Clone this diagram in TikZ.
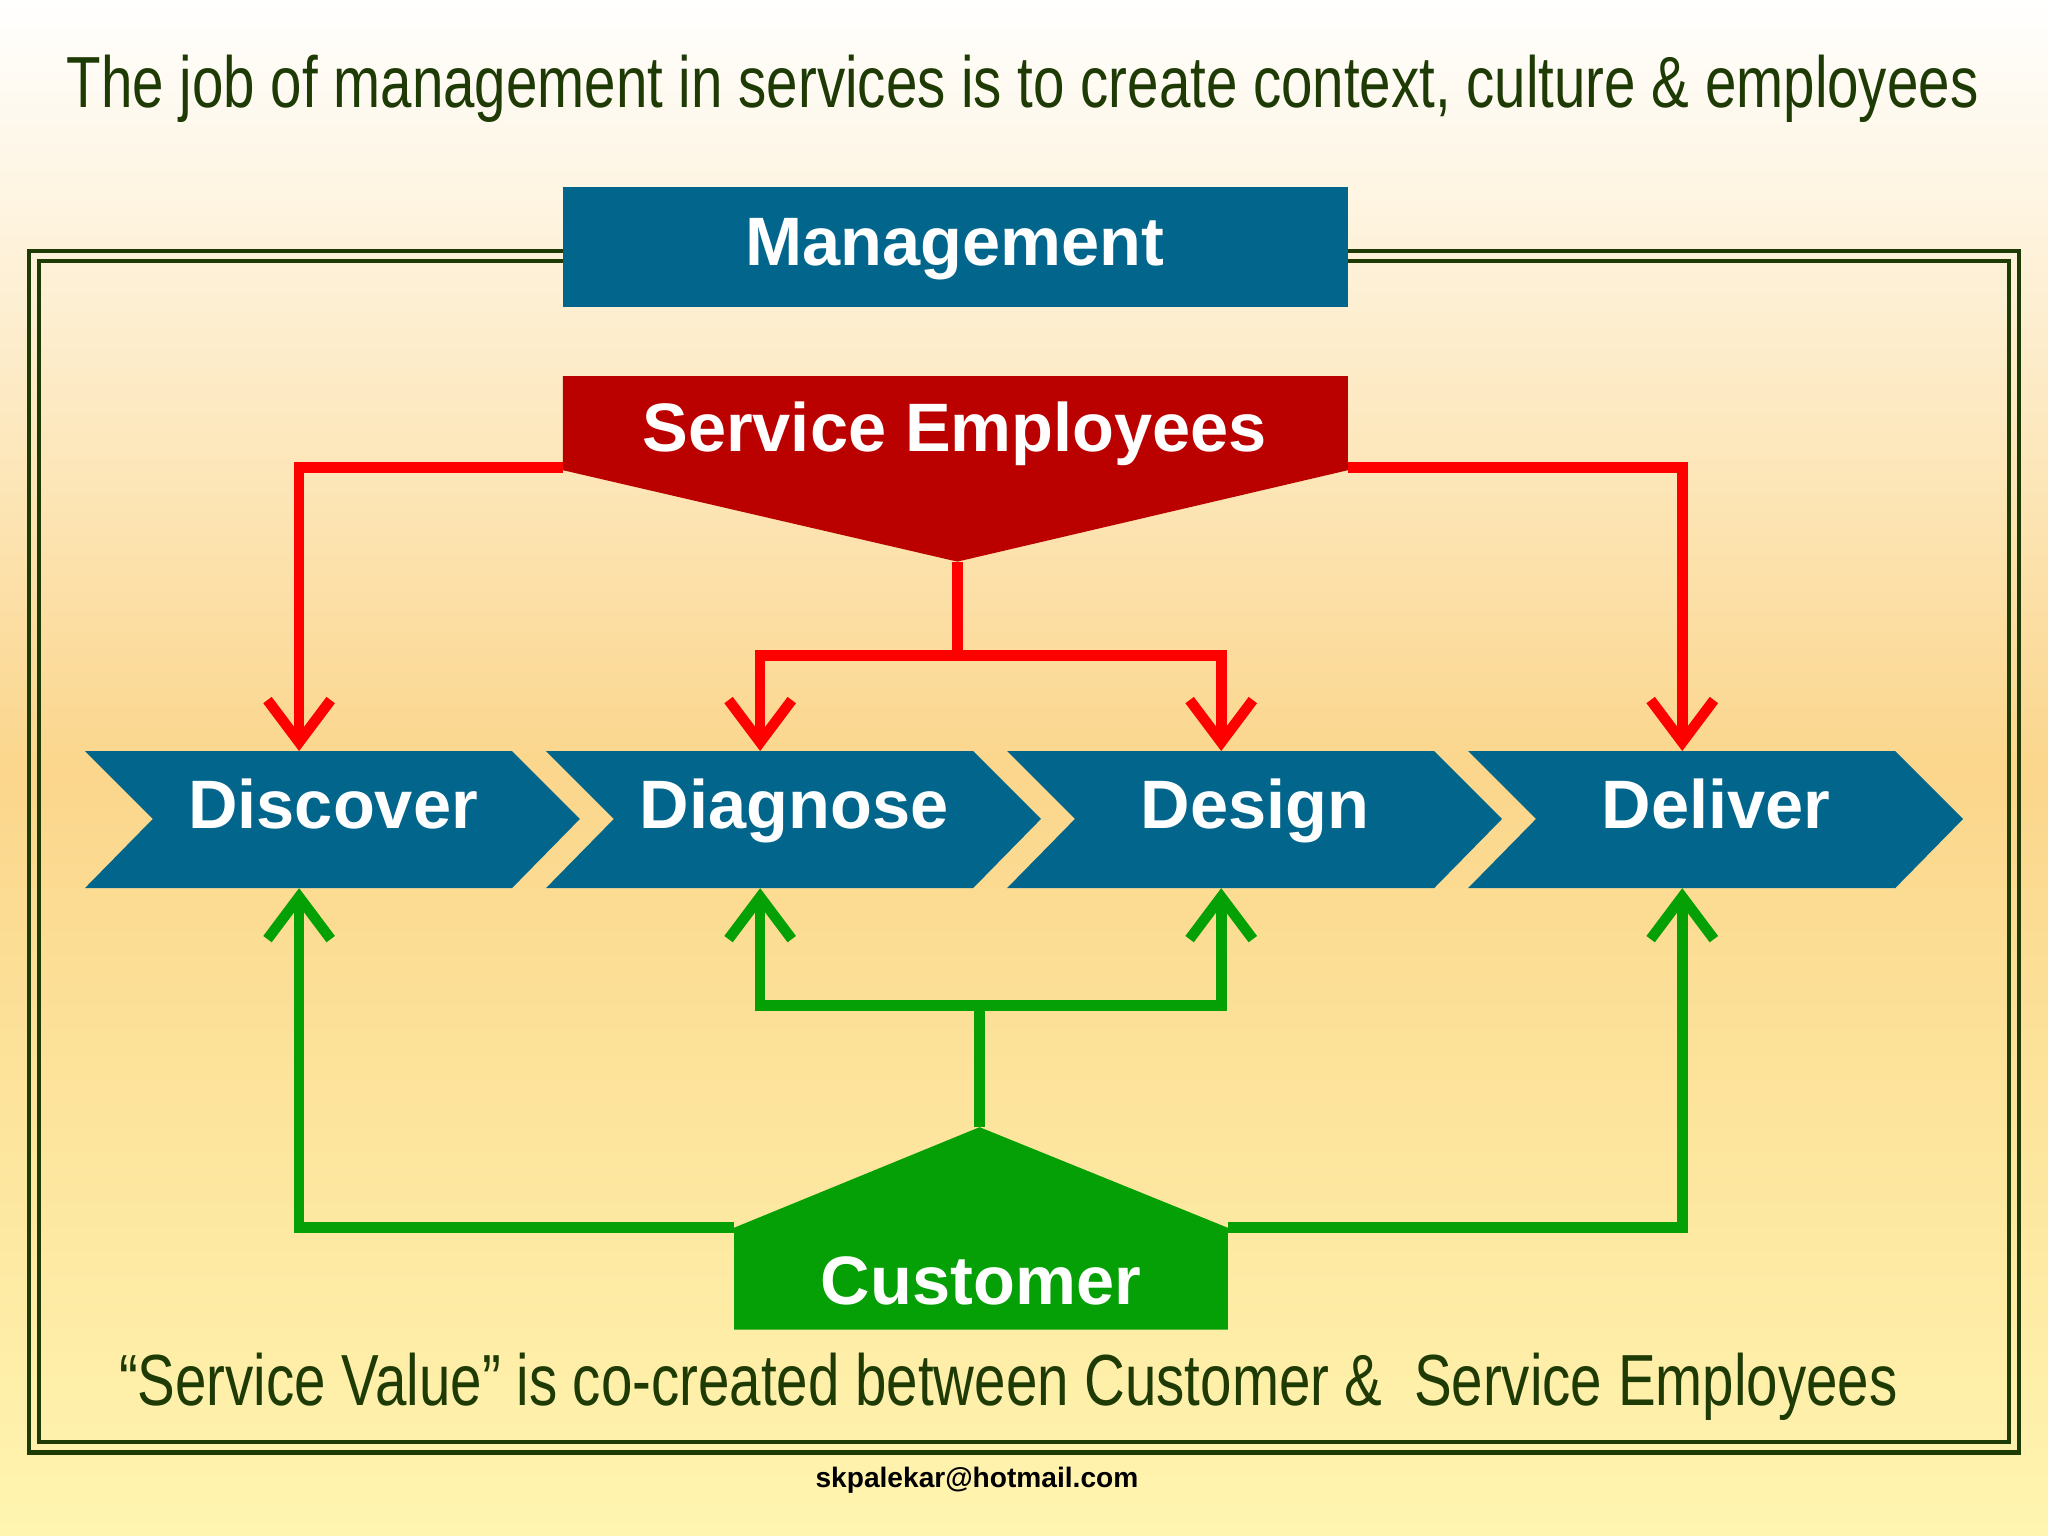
\documentclass[tikz,border=0pt]{standalone}
\usepackage{fontspec}
\setmainfont{Liberation Sans}
\newfontfamily\narrowsans{Liberation Sans}[FakeStretch=0.78]
\usetikzlibrary{arrows.meta}
\definecolor{mgmtblue}{HTML}{02668C}
\definecolor{emplred}{HTML}{BB0000}
\definecolor{custgreen}{HTML}{05A005}
\definecolor{darkgreen}{HTML}{1E3A05}
\definecolor{bgorange}{HTML}{FBD68C}
\definecolor{bgyellow}{HTML}{FFF5B0}
\tikzset{
  box/.style={fill=mgmtblue,draw=none},
  boxtext/.style={text=white,font=\bfseries\fontsize{19.5}{24}\selectfont,anchor=base},
  redarrow/.style={draw=red,line width=3pt,-{Straight Barb[length=12pt,width=18pt,line width=3pt]}},
  greenarrow/.style={draw=custgreen,line width=3pt,-{Straight Barb[length=12pt,width=18pt,line width=3pt]}},
  redline/.style={draw=red,line width=3pt},
  greenline/.style={draw=custgreen,line width=3pt}
}
\begin{document}
\begin{tikzpicture}[x=0.01306cm,y=-0.01306cm]
 		% background
 		\shade[top color=white,bottom color=bgorange] (0,0) rectangle (1568,590);
 		\shade[top color=bgorange,bottom color=bgyellow] (0,589) rectangle (1568,1176);
 		\useasboundingbox (0,0) rectangle (1568,1176);

 		\node[text=darkgreen,font=\narrowsans\fontsize{20.6}{24}\selectfont] (title) at (783,68) {The job of management in services is to create context, culture \& employees};

 		% frame
 		\draw[darkgreen,line width=1.2pt] (22,192) rectangle (1546,1112);
 		\draw[darkgreen,line width=1.2pt] (30,200) rectangle (1538,1104);

 		% management
 		\fill[box] (431,143) rectangle (1032,235);
 		\node[boxtext] (mgmt) at (731,203) {Management};

 		% service employees
 		\fill[emplred] (431,288) -- (1032,288) -- (1032,360) -- (733,430) -- (431,360) -- cycle;
 		\node[boxtext] (empl) at (731,346) {Service Employees};
 		\coordinate (emplL) at (431,358);
 		\coordinate (emplR) at (1032,358);
 		\coordinate (emplB) at (733,430);
 		\coordinate (emplJ) at (733,502);

 		% chevrons
 		\foreach \name/\lbl/\i in {disc/Discover/0,diag/Diagnose/1,desi/Design/2,deli/Deliver/3}{
 		 \fill[box] ({65+353*\i},575) -- ({392+353*\i},575) -- ({444+353*\i},627) -- ({392+353*\i},680) -- ({65+353*\i},680) -- ({117+353*\i},627) -- cycle;
 		 \node[boxtext] (\name) at ({255+353*\i},634) {\lbl};
 		 \coordinate (\name T) at ({229+353*\i},575);
 		 \coordinate (\name B) at ({229+353*\i},680);
 		}

 		% customer
 		\fill[custgreen] (562,940) -- (750,863) -- (940,940) -- (940,1018) -- (562,1018) -- cycle;
 		\node[boxtext] (cust) at (751,999) {Customer};
 		\coordinate (custL) at (562,940);
 		\coordinate (custR) at (940,940);
 		\coordinate (custT) at (750,863);
 		\coordinate (custJ) at (750,770);

 		% red arrows
 		\draw[redarrow] (emplL) -| (discT);
 		\draw[redarrow] (emplR) -| (deliT);
 		\draw[redline] (emplB) -- (emplJ);
 		\draw[redarrow] (emplJ) -| (diagT);
 		\draw[redarrow] (emplJ) -| (desiT);

 		% green arrows
 		\draw[greenarrow] (custL) -| (discB);
 		\draw[greenarrow] (custR) -| (deliB);
 		\draw[greenline] (custT) -- (custJ);
 		\draw[greenarrow] (custJ) -| (diagB);
 		\draw[greenarrow] (custJ) -| (desiB);

 		\node[text=darkgreen,font=\narrowsans\fontsize{20.6}{24}\selectfont] (value) at (772,1062) {“Service Value” is co-created between Customer \&\ \ Service Employees};
 		\node[font=\bfseries\fontsize{8}{10}\selectfont] (mail) at (748,1133) {skpalekar@hotmail.com};
 	 \end{tikzpicture}
\end{document}
